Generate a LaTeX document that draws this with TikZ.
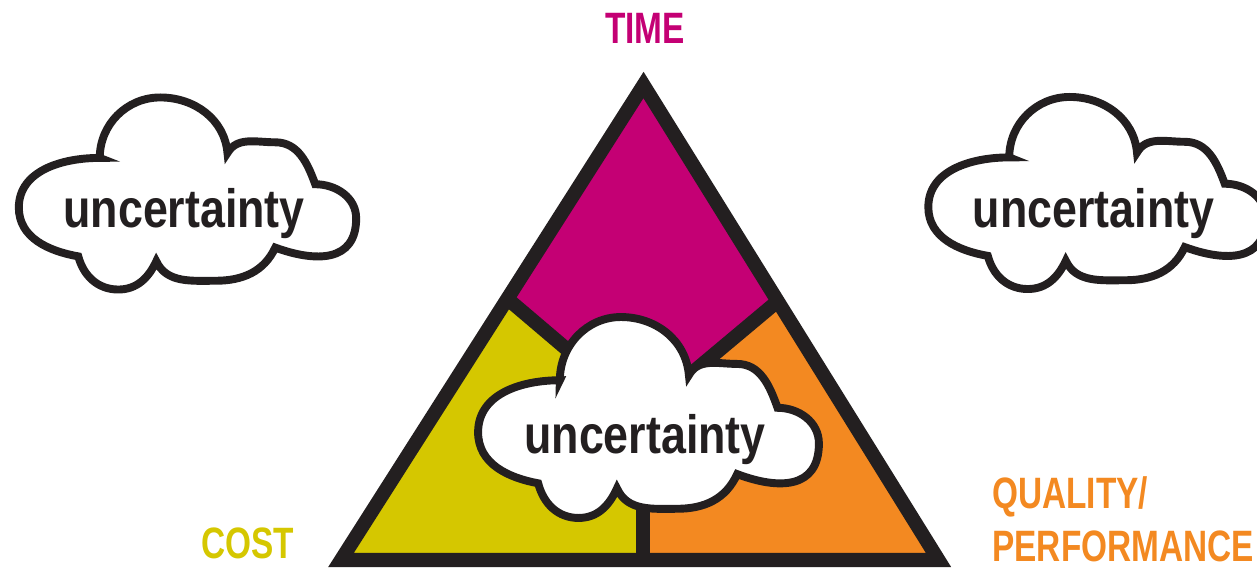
\documentclass[tikz,border=0pt]{standalone}
\usepackage{fontspec}
\usepackage{tikz}
\usetikzlibrary{calc}

\newfontfamily\cloudfont[FakeStretch=0.83]{Liberation Sans}
\newfontfamily\labelfont[FakeStretch=0.76]{Liberation Sans}

\definecolor{tmag}{RGB}{196,0,116}
\definecolor{cyel}{RGB}{213,199,0}
\definecolor{qora}{RGB}{243,137,33}
\definecolor{ink}{RGB}{35,31,32}

% one puffy cloud, centred on the pic origin
\tikzset{
	pics/cloud/.style={code={
		\draw[cloudline] (-1.80,0.73) to[out=90,in=180] (-0.56,1.97) to[out=0,in=95] (0.82,0.83)
			to[out=60,in=180] (1.80,1.05) to[out=0,in=110] (2.62,0.19)
			to[out=0,in=90] (3.46,-0.51) to[out=270,in=-20,looseness=1.3] (1.80,-1.11)
			to[out=245,in=0] (0.58,-1.79) to[out=180,in=295] (-0.64,-1.39)
			to[out=245,in=0] (-1.42,-1.97) to[out=180,in=285] (-2.24,-1.29)
			to[out=170,in=270] (-3.46,-0.29) to[out=90,in=180] cycle;
		\node[cloudtext] (-txt) at (-0.07,-0.70) {uncertainty};
	}}
}

\begin{document}
\begin{tikzpicture}[line join=miter]
		\tikzstyle{edge}=[draw=ink,line width=8pt]
		\tikzstyle{cloudline}=[draw=ink,fill=white,line width=4.5pt]
		\tikzstyle{cloudtext}=[inner sep=0pt,anchor=base,text=ink,font=\cloudfont\bfseries\fontsize{30.7}{32}\selectfont]
		\tikzstyle{corner}=[inner sep=0pt,anchor=base,font=\labelfont\bfseries\fontsize{25}{27}\selectfont]

		\useasboundingbox (0,0) rectangle (25.14,11.38);

		\coordinate (ap) at (12.87,9.68);
		\coordinate (bl) at (6.82,0.18);
		\coordinate (br) at (18.77,0.18);
		\coordinate (lm) at ($(ap)!0.45!(bl)$);
		\coordinate (rm) at ($(ap)!0.455!(br)$);
		\coordinate (bm) at (12.86,0.18);
		\coordinate (m) at (12.86,3.10);

		% the three sectors
		\fill[tmag] (ap) -- (lm) -- (m) -- (rm) -- cycle;
		\fill[cyel] (lm) -- (bl) -- (bm) -- (m) -- cycle;
		\fill[qora] (rm) -- (m) -- (bm) -- (br) -- cycle;

		\draw[edge] (lm) -- (m);
		\draw[edge] (rm) -- (m);
		\draw[edge] (bm) -- (m);
		\draw[edge] (ap) -- (bl) -- (br) -- cycle;

		\pic[scale=0.975] (c0) at (3.75,7.51) {cloud};
		\pic[scale=0.975] (c1) at (21.94,7.52) {cloud};
		\pic[xscale=0.985,yscale=1.02] (c2) at (12.97,3.03) {cloud};

		\node[corner,text=tmag] (t) at (12.9,10.5) {TIME};
		\node[corner,text=cyel] (c) at (4.95,0.2) {COST};
		\node[corner,text=qora,anchor=base west] (q) at (19.84,1.2) {QUALITY/};
		\node[corner,text=qora,anchor=base west] (p) at (19.84,0.14) {PERFORMANCE};
\end{tikzpicture}
\end{document}
